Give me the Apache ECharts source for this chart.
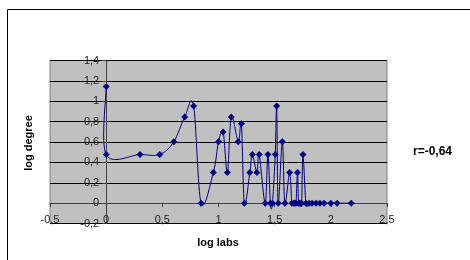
<!DOCTYPE html>
<html><head><meta charset="utf-8">
<script src="https://cdn.jsdelivr.net/npm/echarts@6/dist/echarts.min.js"></script>
<style>html,body{margin:0;padding:0;background:#fff}#c{width:470px;height:260px}</style>
</head><body><div id="c"></div>
<script>
const logLabs = [0, 0, 0.301, 0.477, 0.602, 0.699, 0.778, 0.845, 0.954, 1.0, 1.041, 1.079, 1.114, 1.176, 1.204, 1.23,
  1.279, 1.301, 1.342, 1.362, 1.415, 1.44, 1.462, 1.48, 1.505, 1.518, 1.531, 1.568, 1.591, 1.633, 1.653,
  1.672, 1.68, 1.69, 1.703, 1.712, 1.72, 1.73, 1.74, 1.752, 1.778, 1.806, 1.833, 1.869, 1.903, 1.94, 2.0, 2.056, 2.182];
const logDegree = [1.146, 0.477, 0.477, 0.477, 0.602, 0.845, 0.954, 0, 0.301, 0.602, 0.699, 0.301, 0.845, 0.602, 0.778, 0,
  0.301, 0.477, 0.301, 0.477, 0, 0.477, 0, 0, 0.477, 0.954, 0, 0.602, 0, 0.301, 0,
  0, 0, 0, 0.301, 0, 0, 0, 0, 0.477, 0, 0, 0, 0, 0, 0, 0, 0, 0];
const xTicks = {min: -0.5, max: 2.5, interval: 0.5};
const yTicks = {min: -0.2, max: 1.4, interval: 0.2};
const xTitle = 'log labs', yTitle = 'log degree', note = 'r=-0,64';

const G = {left: 50, top: 60.5, right: 83, bottom: 36.5, W: 470, H: 260};
const plotW = G.W - G.left - G.right, plotH = G.H - G.top - G.bottom;
const xShift = -plotH * (0 - yTicks.min) / (yTicks.max - yTicks.min);
const yShift = -plotW * (0 - xTicks.min) / (xTicks.max - xTicks.min);

const points = logLabs.map((x, i) => [x, logDegree[i]]);
const n = points.length;
const comma = v => String(Math.round(v * 10) / 10).replace('.', ',');

// Smoothed (Catmull-Rom style) segment between point i and i+1, placed through the axes' scales
function renderSegment(params, api) {
  const i = params.dataIndex;
  if (i >= n - 1) return null;
  const p0 = api.coord(points[Math.max(i - 1, 0)]);
  const p1 = api.coord(points[i]);
  const p2 = api.coord(points[i + 1]);
  const p3 = api.coord(points[Math.min(i + 2, n - 1)]);
  const t = 1 / 6;
  return {
    type: 'bezierCurve',
    shape: {x1: p1[0], y1: p1[1], x2: p2[0], y2: p2[1],
      cpx1: p1[0] + (p2[0] - p0[0]) * t, cpy1: p1[1] + (p2[1] - p0[1]) * t,
      cpx2: p2[0] - (p3[0] - p1[0]) * t, cpy2: p2[1] - (p3[1] - p1[1]) * t},
    style: {stroke: '#000080', lineWidth: 1, fill: null}
  };
}

const chart = echarts.init(document.getElementById('c'), null, {renderer: 'canvas'});
chart.setOption({
  animation: false,
  textStyle: {fontFamily: 'Liberation Sans, Arial, sans-serif'},
  grid: {left: G.left, top: G.top, right: G.right, bottom: G.bottom, show: true, backgroundColor: '#c0c0c0',
    borderColor: '#808080', borderWidth: 1},
  xAxis: {type: 'value', min: xTicks.min, max: xTicks.max, interval: xTicks.interval, offset: xShift,
    axisLine: {onZero: false, lineStyle: {color: '#404040', width: 1}},
    axisTick: {show: true, length: 4, lineStyle: {color: '#404040'}},
    axisLabel: {formatter: comma, color: '#222', fontSize: 11, margin: 11},
    splitLine: {show: false}},
  yAxis: {type: 'value', min: yTicks.min, max: yTicks.max, interval: yTicks.interval, offset: yShift,
    axisLine: {show: true, onZero: false, lineStyle: {color: '#404040', width: 1}},
    axisTick: {show: true, length: 4, lineStyle: {color: '#404040'}},
    axisLabel: {formatter: comma, color: '#222', fontSize: 11, margin: 7},
    splitLine: {show: true, lineStyle: {color: '#000', width: 1}}},
  series: [
    {type: 'custom', data: points, renderItem: renderSegment, z: 2, silent: true},
    {type: 'scatter', data: points, symbol: 'diamond', symbolSize: 7, z: 3,
      itemStyle: {color: '#000080', opacity: 1}}
  ],
  graphic: [
    {type: 'rect', shape: {x: 7.5, y: 9.5, width: 520, height: 300}, style: {fill: null, stroke: '#000', lineWidth: 1}, silent: true},
    {type: 'text', x: 29, y: 143, rotation: Math.PI / 2,
      style: {text: yTitle, font: 'bold 11px Liberation Sans, Arial', fill: '#000', align: 'center', verticalAlign: 'middle'}},
    {type: 'text', x: 218, y: 243,
      style: {text: xTitle, font: 'bold 11px Liberation Sans, Arial', fill: '#000', align: 'center', verticalAlign: 'middle'}},
    {type: 'text', x: 413, y: 152,
      style: {text: note, font: 'bold 12px Liberation Sans, Arial', fill: '#000', align: 'left', verticalAlign: 'middle'}}
  ]
});
</script></body></html>
